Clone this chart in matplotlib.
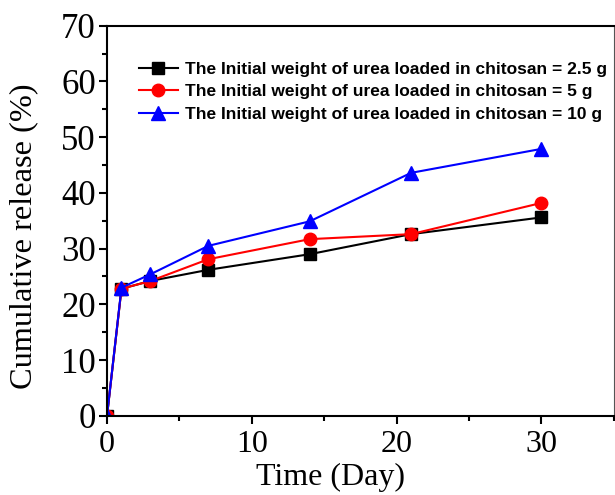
import numpy as np
import matplotlib
matplotlib.use('Agg')
import matplotlib.pyplot as plt
from matplotlib.ticker import MultipleLocator

days = [0, 1, 3, 7, 14, 21, 30]
rel_25 = [0, 22.8, 24.2, 26.2, 29.0, 32.6, 35.6]
rel_5 = [0, 22.8, 24.2, 28.1, 31.7, 32.6, 38.2]
rel_10 = [0, 23.0, 25.4, 30.5, 34.9, 43.6, 47.9]
labels = ['The Initial weight of urea loaded in chitosan = 2.5 g',
          'The Initial weight of urea loaded in chitosan = 5 g',
          'The Initial weight of urea loaded in chitosan = 10 g']

fig = plt.figure(figsize=(6.15, 4.95), dpi=100)
ax = fig.add_axes([0.174, 0.160, 0.824, 0.788])

ax.plot(days, rel_25, color='black', marker='s', ms=8, lw=1.5, label=labels[0])
ax.plot(days, rel_5, color='red', marker='o', ms=9, lw=1.5, label=labels[1])
ax.plot(days, rel_10, color='blue', marker='^', ms=10, lw=1.5, label=labels[2])

ax.set_xlim(0, 35)
ax.set_ylim(0, 70)
ax.xaxis.set_major_locator(MultipleLocator(10))
ax.xaxis.set_minor_locator(MultipleLocator(5))
ax.yaxis.set_major_locator(MultipleLocator(10))
ax.yaxis.set_minor_locator(MultipleLocator(5))
ax.tick_params(which='major', direction='out', length=6, width=1.5, labelsize=23)
ax.tick_params(which='minor', direction='out', length=3.5, width=1.5)
ax.tick_params(axis='y', labelsize=25, pad=2)
ax.tick_params(axis='x', pad=4)
for lab in ax.get_xticklabels() + ax.get_yticklabels():
    lab.set_fontfamily('Liberation Serif')
for s in ['left', 'bottom', 'top']:
    ax.spines[s].set_linewidth(1.5)
ax.spines['right'].set_linewidth(0.8)
ax.spines['right'].set_color('#555555')

ax.set_xlabel('Time (Day)', fontsize=23, family='Liberation Serif')
ax.set_ylabel('Cumulative release (%)', fontsize=23.3, family='Liberation Serif')
ax.xaxis.set_label_coords(0.441, -0.122)
ax.yaxis.set_label_coords(-0.136, 0.46)

ax.legend(loc='upper left', bbox_to_anchor=(0.045, 0.93), frameon=False,
          prop={'family': 'Liberation Sans', 'weight': 'bold', 'size': 12.55},
          handlelength=2.25, handletextpad=0.4, labelspacing=0.42, borderpad=0)

fig.savefig('out.png', dpi=100)
